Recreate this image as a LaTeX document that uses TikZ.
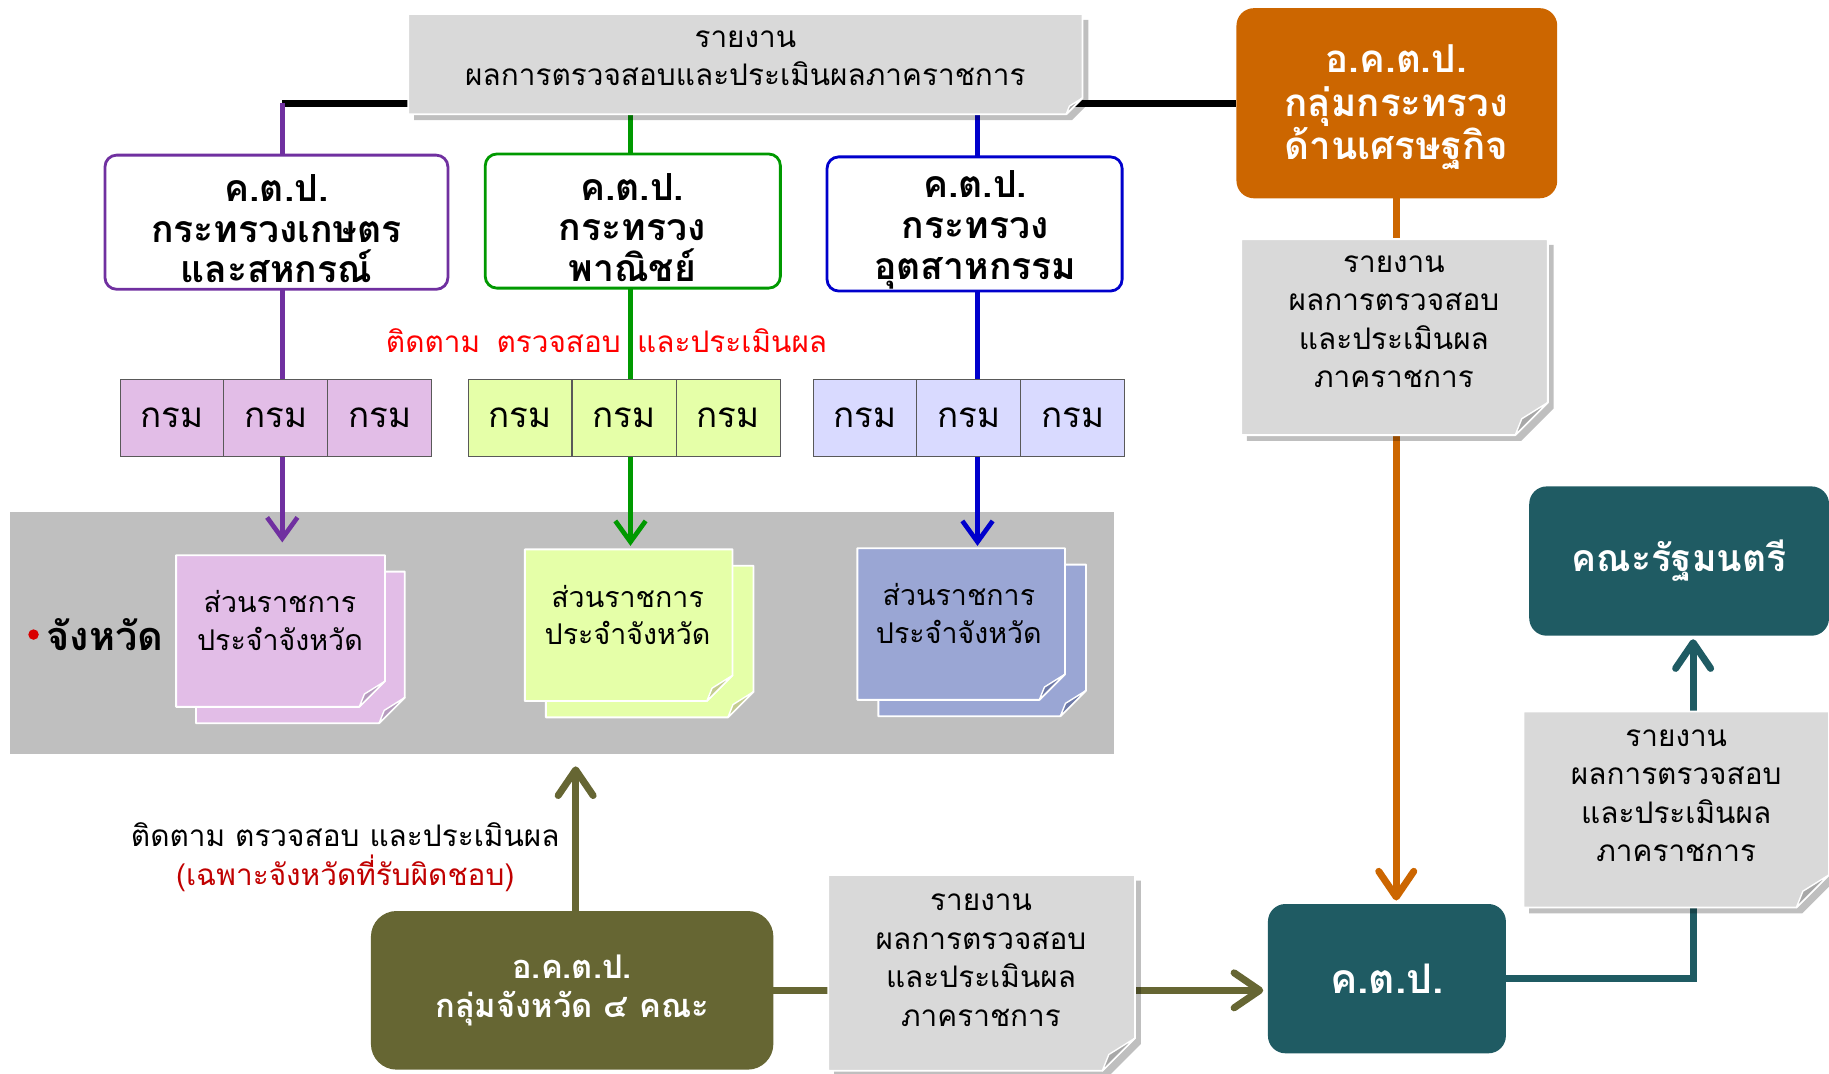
\documentclass[tikz,border=0pt]{standalone}
\usepackage{fontspec}
\setmainfont{Loma}[Script=Thai]
\usetikzlibrary{arrows.meta,calc}
\pgfdeclarelayer{band}\pgfdeclarelayer{lines}\pgfdeclarelayer{paper}
\pgfsetlayers{band,lines,paper,main}
\definecolor{kpurple}{HTML}{7030A0}
\definecolor{kgreen}{HTML}{009900}
\definecolor{kblue}{HTML}{0000CC}
\definecolor{korange}{HTML}{CC6600}
\definecolor{kteal}{HTML}{1F5B63}
\definecolor{kolive}{HTML}{666633}
\definecolor{bandgray}{HTML}{BFBFBF}
\definecolor{docgray}{HTML}{D9D9D9}
\definecolor{foldgray}{HTML}{A8A8A8}
\definecolor{lpurple}{HTML}{E2BDE7}
\definecolor{fpurple}{HTML}{B69BBE}
\definecolor{lgreen}{HTML}{E5FFA8}
\definecolor{fgreen}{HTML}{C4CC90}
\definecolor{lblue}{HTML}{D9DAFF}
\definecolor{pblue}{HTML}{9AA6D4}
\definecolor{fblue}{HTML}{6E7AA8}
\definecolor{kred}{HTML}{FF0000}
\definecolor{dred}{HTML}{C00000}
\newcommand\sheetshape[5]{%
 \path[fill=#3, draw=white, line width=1.6pt, line join=round]
  ($(#1.north west)+#2$) -- ($(#1.north east)+#2$) -- ($(#1.south east)+#2+(0,-#5)$) -- ($(#1.south east)+#2+(-#5,0)$) -- ($(#1.south west)+#2$) -- cycle;
 \path[fill=#4, draw=white, line width=1.2pt, line join=round]
  ($(#1.south east)+#2+(0,-#5)$) -- ($(#1.south east)+#2+(-0.8*#5,-0.5*#5)$) -- ($(#1.south east)+#2+(-#5,0)$) -- cycle;
}
\newcommand\shadowshape[2]{%
 \path[fill=black, opacity=0.25]
  ($(#1.north west)+(5,5)$) -- ($(#1.north east)+(5,5)$) -- ($(#1.south east)+(5,5)+(0,-#2)$) -- ($(#1.south east)+(5,5)+(-#2,0)$) -- ($(#1.south west)+(5,5)$) -- cycle;
}
\tikzset{
 area/.style={shape=rectangle, inner sep=0pt, outer sep=0pt},
 kbox/.style={area, fill=white, line width=2.4pt, rounded corners=10pt, minimum width=253pt, minimum height=115pt},
 kboxtext/.style={align=center, inner sep=0pt, font=\bfseries\fontsize{32}{35}\selectfont},
 dept/.style={area, draw=black!65, line width=0.8pt, minimum width=89pt, minimum height=66pt,
   font=\fontsize{30}{32}\selectfont},
 doctext/.style={align=center, inner sep=0pt, font=\fontsize{25.5}{33}\selectfont},
 sheettext/.style={align=center, inner sep=0pt, font=\fontsize{24.5}{32}\selectfont},
 solid box/.style={area, rounded corners=15pt, text=white, align=center},
 conn/.style={line width=4pt},
 fat/.style={line width=6pt},
 barbS/.style={-{Straight Barb[length=18pt,width=26pt]}},
 barbL/.style={-{Straight Barb[length=22pt,width=30pt,round]}},
}
\begin{document}
\begin{tikzpicture}[x=1pt,y=-1pt]
\useasboundingbox (0,0) rectangle (1568,920);
% ---------- nodes ----------
\begin{pgfonlayer}{band}
\node[area, fill=bandgray, minimum width=946pt, minimum height=207pt] (band) at (482,542.5) {};
\end{pgfonlayer}
% documents (areas)
\node[area, minimum width=578pt, minimum height=86pt] (topdoc) at (639,55) {};
\node[doctext] (topdoct) at (639,50) {รายงาน\\ผลการตรวจสอบและประเมินผลภาคราชการ};
\node[area, minimum width=263pt, minimum height=168pt] (rdoc1) at (1195.5,289) {};
\node[doctext] (rdoc1t) at (1195,276) {รายงาน\\ผลการตรวจสอบ\\และประเมินผล\\ภาคราชการ};
\node[area, minimum width=262pt, minimum height=168pt] (rdoc2) at (1437,694) {};
\node[doctext] (rdoc2t) at (1437,682) {รายงาน\\ผลการตรวจสอบ\\และประเมินผล\\ภาคราชการ};
\node[area, minimum width=263pt, minimum height=168pt] (bdoc) at (841.5,834) {};
\node[doctext] (bdoct) at (841,823) {รายงาน\\ผลการตรวจสอบ\\และประเมินผล\\ภาคราชการ};
% ministry boxes
\node[kbox, draw=kpurple, minimum width=294pt] (kp1) at (237,190.5) {};
\node[kboxtext] (kp1t) at (237,196) {ค.ต.ป.\\กระทรวงเกษตร\\และสหกรณ์};
\node[kbox, draw=kgreen] (kp2) at (542.5,189.5) {};
\node[kboxtext] (kp2t) at (542,195) {ค.ต.ป.\\กระทรวง\\พาณิชย์};
\node[kbox, draw=kblue] (kp3) at (835.5,192) {};
\node[kboxtext] (kp3t) at (836,197) {ค.ต.ป.\\กระทรวง\\อุตสาหกรรม};
% departments
\node[dept, fill=lpurple] (d11) at (147.5,358) {กรม};
\node[dept, fill=lpurple] (d12) at (236.5,358) {กรม};
\node[dept, fill=lpurple] (d13) at (325.5,358) {กรม};
\node[dept, fill=lgreen] (d21) at (445.7,358) {กรม};
\node[dept, fill=lgreen] (d22) at (535,358) {กรม};
\node[dept, fill=lgreen] (d23) at (624.3,358) {กรม};
\node[dept, fill=lblue] (d31) at (741.5,358) {กรม};
\node[dept, fill=lblue] (d32) at (830.5,358) {กรม};
\node[dept, fill=lblue] (d33) at (919.5,358) {กรม};
% red label
\node[inner sep=0pt, text=kred, font=\fontsize{25.5}{28}\selectfont] (follow) at (520,292)
  {ติดตาม\hspace{14pt}ตรวจสอบ\hspace{14pt}และประเมินผล};
% provincial sheets
\node[area, minimum width=179pt, minimum height=130pt] (sp1) at (240.5,541) {};
\node[sheettext] (sp1t) at (240,532) {ส่วนราชการ\\ประจำจังหวัด};
\node[area, minimum width=178pt, minimum height=130pt] (sp2) at (539,536) {};
\node[sheettext] (sp2t) at (538,527) {ส่วนราชการ\\ประจำจังหวัด};
\node[area, minimum width=178pt, minimum height=130pt] (sp3) at (824,535) {};
\node[sheettext] (sp3t) at (822,526) {ส่วนราชการ\\ประจำจังหวัด};
\node[inner sep=0pt, font=\bfseries\fontsize{34}{36}\selectfont] (prov) at (90,544) {จังหวัด};
% coloured boxes
\node[solid box, fill=korange, minimum width=275pt, minimum height=163pt] (okp) at (1197.5,88.5) {};
\node[align=center, inner sep=0pt, text=white, font=\bfseries\fontsize{33}{37.5}\selectfont] (okpt) at (1197,92) {อ.ค.ต.ป.\\กลุ่มกระทรวง\\ด้านเศรษฐกิจ};
\node[solid box, fill=kteal, minimum width=257pt, minimum height=128pt,
  font=\bfseries\fontsize{32}{36}\selectfont] (cab) at (1439.5,481) {คณะรัฐมนตรี};
\node[solid box, fill=kteal, minimum width=204pt, minimum height=128pt,
  font=\bfseries\fontsize{35}{38}\selectfont] (kpt) at (1189,839) {ค.ต.ป.};
\node[solid box, fill=kolive, rounded corners=22pt, minimum width=345pt, minimum height=136pt,
  font=\bfseries\fontsize{28}{33}\selectfont] (okg) at (490.5,849) {อ.ค.ต.ป.\\กลุ่มจังหวัด ๔ คณะ};
\node[align=center, inner sep=0pt, font=\fontsize{25.5}{34}\selectfont] (follow2) at (296,735)
  {ติดตาม ตรวจสอบ และประเมินผล\\\textcolor{dred}{(เฉพาะจังหวัดที่รับผิดชอบ)}};
% connector anchor points
\coordinate (c1n) at ($(kp1.north)+(5,0)$);
\coordinate (c1s) at ($(kp1.south)+(5,0)$);
\coordinate (c2n) at ($(kp2.north)+(-2,0)$);
\coordinate (c2s) at ($(kp2.south)+(-2,0)$);
\coordinate (c3n) at ($(kp3.north)+(2.5,0)$);
\coordinate (c3s) at ($(kp3.south)+(2.5,0)$);
% ---------- paper shapes ----------
\begin{pgfonlayer}{paper}
\shadowshape{topdoc}{14}
\sheetshape{topdoc}{(0,0)}{docgray}{foldgray}{14}
\shadowshape{rdoc1}{28}
\sheetshape{rdoc1}{(0,0)}{docgray}{foldgray}{28}
\shadowshape{rdoc2}{28}
\sheetshape{rdoc2}{(0,0)}{docgray}{foldgray}{28}
\shadowshape{bdoc}{28}
\sheetshape{bdoc}{(0,0)}{docgray}{foldgray}{28}
\sheetshape{sp1}{(17,14)}{lpurple}{fpurple}{22}
\sheetshape{sp1}{(0,0)}{lpurple}{fpurple}{22}
\sheetshape{sp2}{(18,14)}{lgreen}{fgreen}{22}
\sheetshape{sp2}{(0,0)}{lgreen}{fgreen}{22}
\sheetshape{sp3}{(18,14)}{pblue}{fblue}{22}
\sheetshape{sp3}{(0,0)}{pblue}{fblue}{22}
\end{pgfonlayer}
\fill[red!85!black] (prov.west) ++(-11,0) circle (4.5);
% ---------- connectors ----------
\begin{pgfonlayer}{lines}
\draw[fat, black] (c1n |- okp.west) -- (okp.west);
\draw[conn, kpurple] (c1n |- okp.west) -- (c1n);
\draw[conn, kgreen] (topdoc.south -| c2n) -- (c2n);
\draw[conn, kblue] (topdoc.south -| c3n) -- (c3n);
\draw[conn, kpurple, barbS, shorten >=11pt] (c1s) -- (c1s |- sp1.north);
\draw[conn, kgreen, barbS, shorten >=3pt] (c2s) -- (c2s |- sp2.north);
\draw[conn, kblue, barbS, shorten >=2pt] (c3s) -- (c3s |- sp3.north);
\draw[fat, korange, barbL, shorten >=3pt] ([xshift=8pt]kpt.north |- okp.south) -- ([xshift=8pt]kpt.north);
\draw[fat, kteal, barbL, shorten >=3pt] (kpt.east) -| ([xshift=12pt]cab.south);
\draw[fat, kolive, barbL, shorten >=4pt] (okg.east) -- (okg.east -| kpt.west);
\draw[fat, kolive, barbL, shorten >=11pt] ([xshift=3pt]okg.north) -- ([xshift=3pt]okg.north |- band.south);
\end{pgfonlayer}
\end{tikzpicture}
\end{document}
